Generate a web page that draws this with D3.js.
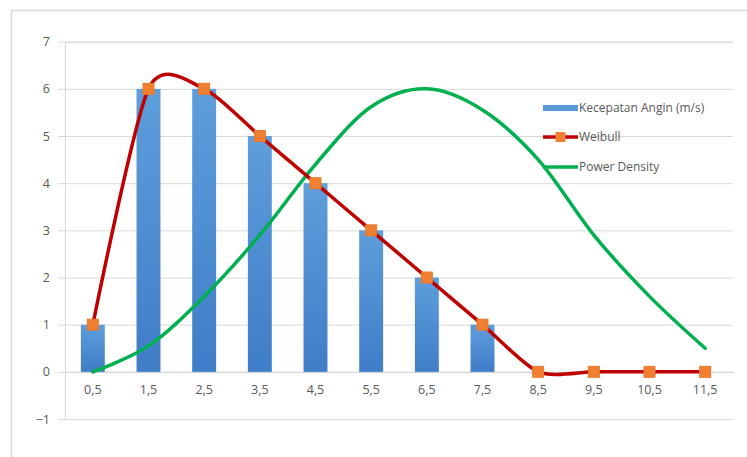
<!DOCTYPE html>
<html><head><meta charset="utf-8">
<script src="https://cdn.jsdelivr.net/npm/d3@7/dist/d3.min.js"></script>
<style>body{margin:0;background:#fff}svg{display:block}text{font-family:"Open Sans","Noto Sans",sans-serif;fill:#595959}</style>
</head><body><svg id="c" width="747" height="457"></svg>
<script>
const categories = ["0,5","1,5","2,5","3,5","4,5","5,5","6,5","7,5","8,5","9,5","10,5","11,5"];
const kecepatan = [1,6,6,5,4,3,2,1,0,0,0,0];
const weibull = [1,6,6,5,4,3,2,1,0,0,0,0];
const powerDensity = [0,0.55,1.6,2.9,4.4,5.62,6.0,5.55,4.5,2.9,1.6,0.5];
const yTicks = [-1,0,1,2,3,4,5,6,7];
const seriesNames = ["Kecepatan Angin (m/s)","Weibull","Power Density"];

const svg = d3.select("#c");
const pLeft = 65, pRight = 733, pTop = 41.7, pBottom = 419;

// chart border
svg.append("rect").attr("x",11.5).attr("y",10.5).attr("width",760).attr("height",470)
  .attr("fill","#fff").attr("stroke","#d9d9d9").attr("stroke-width",1.5);

const x = d3.scaleBand().domain(categories).range([pLeft,pRight]).paddingInner(0).paddingOuter(0);
const y = d3.scaleLinear().domain([-1,7]).range([pBottom,pTop]);

// gridlines
const yAxis = d3.axisLeft(y).tickValues(yTicks).tickSize(-(pRight-pLeft)).tickPadding(10).tickFormat(d3.format("d"));
const gy = svg.append("g").attr("transform",`translate(${pLeft},0)`).call(yAxis);
gy.select(".domain").attr("stroke","#d9d9d9");
gy.selectAll(".tick line").attr("stroke","#d9d9d9").attr("x1",-7);
gy.selectAll(".tick text").style("font-size","12.5px").attr("fill","#595959").attr("x",-15);

// x axis labels at zero line
const xAxis = d3.axisBottom(x).tickSize(0).tickPadding(13);
const gx = svg.append("g").attr("transform",`translate(0,${y(0)})`).call(xAxis);
gx.select(".domain").attr("stroke","#d0d0d0");
gx.selectAll(".tick text").style("font-size","12.5px").attr("fill","#595959");

// gradient
const defs = svg.append("defs");
const grad = defs.append("linearGradient").attr("id","bg").attr("x1",0).attr("y1",0).attr("x2",0).attr("y2",1);
grad.append("stop").attr("offset","0%").attr("stop-color","#5e9edb");
grad.append("stop").attr("offset","100%").attr("stop-color","#3f7dc8");

const bw = x.bandwidth()*0.43;
svg.append("g").selectAll("rect").data(kecepatan).join("rect")
  .attr("x",(d,i)=>x(categories[i])+x.bandwidth()/2-bw/2)
  .attr("y",d=>y(Math.max(0,d)))
  .attr("width",bw)
  .attr("height",d=>Math.abs(y(d)-y(0)))
  .attr("fill","url(#bg)");

const cx = i => x(categories[i])+x.bandwidth()/2;
const lineW = d3.line().x((d,i)=>cx(i)).y(d=>y(d)).curve(d3.curveCardinal.tension(0.25));
const lineP = d3.line().x((d,i)=>cx(i)).y(d=>y(d)).curve(d3.curveCardinal.tension(0));

svg.append("path").attr("d",lineP(powerDensity)).attr("fill","none").attr("stroke","#00b050").attr("stroke-width",3.5).attr("stroke-linecap","round");
svg.append("path").attr("d",lineW(weibull)).attr("fill","none").attr("stroke","#c00000").attr("stroke-width",3.5).attr("stroke-linecap","round");

const ms = 11;
svg.append("g").selectAll("rect").data(weibull).join("rect")
  .attr("x",(d,i)=>cx(i)-ms/2).attr("y",d=>y(d)-ms/2)
  .attr("width",ms).attr("height",ms).attr("fill","#f07f32").attr("stroke","#e97a2c").attr("stroke-width",1);

// legend
const lx = 543, lw = 35;
const ly = [108,137,167];
const leg = svg.append("g");
leg.append("rect").attr("x",lx).attr("y",ly[0]-3).attr("width",lw).attr("height",6).attr("fill","#5b9bd5");
leg.append("line").attr("x1",lx).attr("x2",lx+lw).attr("y1",ly[1]).attr("y2",ly[1]).attr("stroke","#c00000").attr("stroke-width",3.5);
leg.append("rect").attr("x",lx+lw/2-5).attr("y",ly[1]-5).attr("width",10).attr("height",10).attr("fill","#f07f32");
leg.append("line").attr("x1",lx).attr("x2",lx+lw).attr("y1",ly[2]).attr("y2",ly[2]).attr("stroke","#00b050").attr("stroke-width",3.5);
leg.selectAll("text").data(seriesNames).join("text")
  .attr("x",lx+lw+1).attr("y",(d,i)=>ly[i]).attr("dy","0.35em")
  .style("font-size","12px").text(d=>d);
</script></body></html>
